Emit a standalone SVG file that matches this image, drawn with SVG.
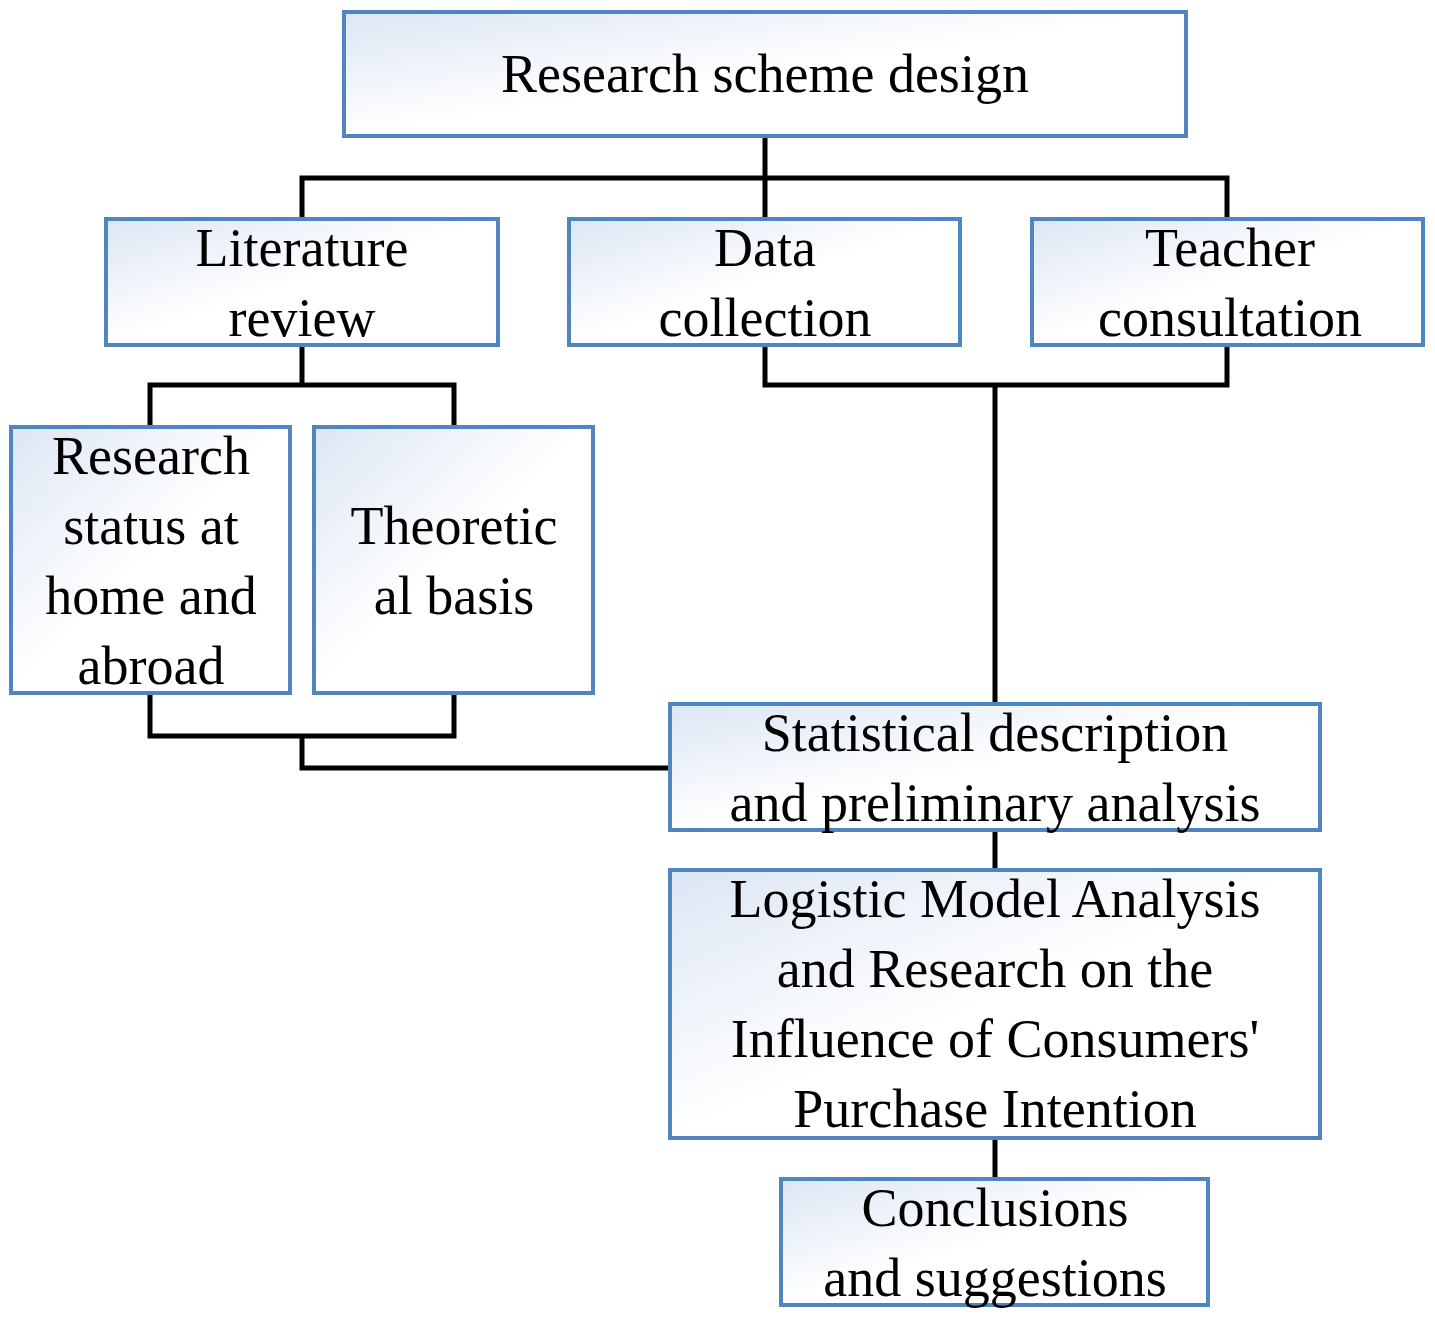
<svg xmlns="http://www.w3.org/2000/svg" width="1435" height="1319" viewBox="0 0 1435 1319">
<defs>
<linearGradient id="g" x1="0" y1="0" x2="1" y2="1">
<stop offset="0" stop-color="#dde6f4"/><stop offset="0.5" stop-color="#ffffff"/><stop offset="1" stop-color="#ffffff"/>
</linearGradient>
<style>
.b{fill:url(#g);stroke:#4f86c0;stroke-width:4}
.t{font-family:"Liberation Serif",serif;font-size:54px;text-anchor:middle;fill:#000}
.c{fill:none;stroke:#000;stroke-width:5}
</style>
</defs>
<rect width="1435" height="1319" fill="#fff"/>
<g id="connectors" class="c">
<path d="M765 136V219M302 219V178H1227V219"/>
<path d="M302 345V385M150 427V385H454V427"/>
<path d="M765 345V385H1227V345M995 385V704"/>
<path d="M150 693V736H454V693M302 736V768H670"/>
<path d="M995 830V870M995 1138V1179"/>
</g>
<g id="n1"><rect class="b" x="344" y="12" width="842" height="124"/><text class="t" x="765" y="92">Research scheme design</text></g>
<g id="n2"><rect class="b" x="106" y="219" width="392" height="126"/><text class="t" x="302" y="266">Literature</text><text class="t" x="302" y="336">review</text></g>
<g id="n3"><rect class="b" x="569" y="219" width="391" height="126"/><text class="t" x="765" y="266">Data</text><text class="t" x="765" y="336">collection</text></g>
<g id="n4"><rect class="b" x="1032" y="219" width="391" height="126"/><text class="t" x="1230" y="266">Teacher</text><text class="t" x="1230" y="336">consultation</text></g>
<g id="n5"><rect class="b" x="11" y="427" width="279" height="266"/><text class="t" x="151" y="474">Research</text><text class="t" x="151" y="544">status at</text><text class="t" x="151" y="614">home and</text><text class="t" x="151" y="684">abroad</text></g>
<g id="n6"><rect class="b" x="314" y="427" width="279" height="266"/><text class="t" x="454" y="544">Theoretic</text><text class="t" x="454" y="614">al basis</text></g>
<g id="n7"><rect class="b" x="670" y="704" width="650" height="126"/><text class="t" x="995" y="751">Statistical description</text><text class="t" x="995" y="821">and preliminary analysis</text></g>
<g id="n8"><rect class="b" x="670" y="870" width="650" height="268"/><text class="t" x="995" y="917">Logistic Model Analysis</text><text class="t" x="995" y="987">and Research on the</text><text class="t" x="995" y="1057">Influence of Consumers'</text><text class="t" x="995" y="1127">Purchase Intention</text></g>
<g id="n9"><rect class="b" x="781" y="1179" width="427" height="126"/><text class="t" x="995" y="1226">Conclusions</text><text class="t" x="995" y="1296">and suggestions</text></g>
</svg>
